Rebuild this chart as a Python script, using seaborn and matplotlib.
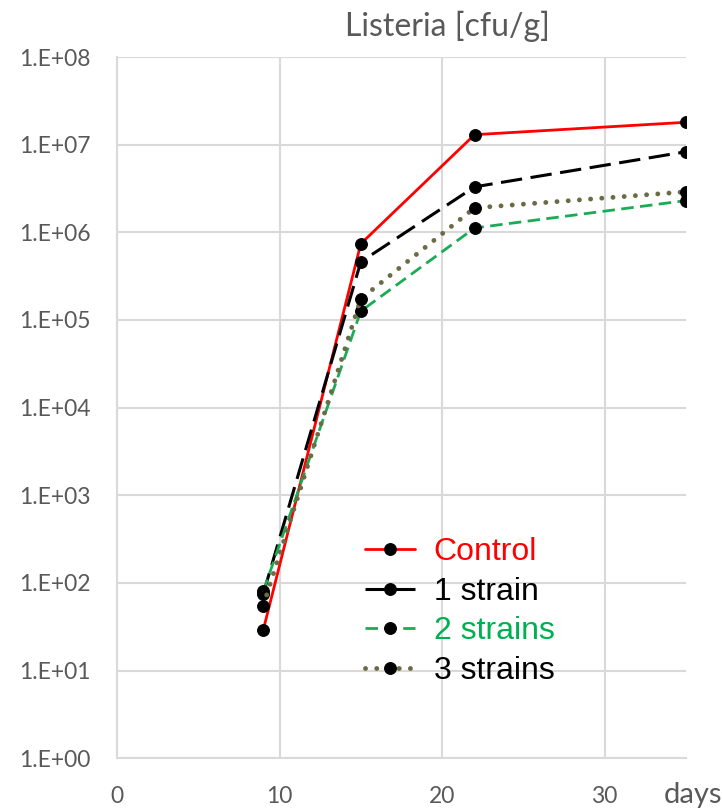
import numpy as np
import pandas as pd
import seaborn as sns
import matplotlib
matplotlib.use("Agg")
import matplotlib.pyplot as plt
from matplotlib.ticker import FixedLocator, FuncFormatter

# Listeria counts (cfu/g) over storage time
days = [9, 15, 22, 35]
control = [29, 7.4e5, 1.3e7, 1.8e7]
strain_1 = [75, 4.6e5, 3.3e6, 8.3e6]
strains_2 = [80, 1.26e5, 1.12e6, 2.3e6]
strains_3 = [55, 1.74e5, 1.9e6, 2.9e6]
series_names = ["Control", "1 strain", "2 strains", "3 strains"]
x_ticks = [0, 10, 20, 30]

sns.set_theme(style="white")
plt.rcParams["font.family"] = ["Lato", "DejaVu Sans"]

fig = plt.figure(figsize=(7.22, 8.10), dpi=100)
ax = fig.add_axes([0.162, 0.064, 0.788, 0.8656])

styles = {
    "Control": dict(color="#ff0000", linestyle="-", lw=2.0),
    "1 strain": dict(color="#000000", linestyle=(0, (7, 2.8)), lw=2.2),
    "2 strains": dict(color="#1aab55", linestyle=(0, (4.5, 2.3)), lw=2.0),
    "3 strains": dict(color="#6b6b45", linestyle=(0, (0.01, 2.3)), lw=3.5,
                      dash_capstyle="round"),
}
values = [control, strain_1, strains_2, strains_3]

for name, vals in zip(series_names, values):
    df = pd.DataFrame({"day": days, "cfu": vals})
    st = styles[name]
    sns.lineplot(data=df, x="day", y="cfu", ax=ax, color=st["color"],
                 linewidth=st["lw"], marker="o", markersize=8.5,
                 markerfacecolor="black", markeredgecolor="black",
                 label=name, zorder=3)
    line = ax.lines[-1]
    line.set_linestyle(st["linestyle"])
    if "dash_capstyle" in st:
        line.set_dash_capstyle(st["dash_capstyle"])

ax.set_yscale("log")
ax.set_ylim(1, 1e8)
ax.set_xlim(0, 35)
ax.yaxis.set_major_locator(FixedLocator([10.0 ** k for k in range(0, 9)]))
ax.yaxis.set_minor_locator(FixedLocator([]))
ax.yaxis.set_major_formatter(FuncFormatter(lambda v, p: "1.E+%02d" % int(round(np.log10(v)))))
ax.xaxis.set_major_locator(FixedLocator(x_ticks))

grid_c = "#d9d9d9"
ax.grid(True, color=grid_c, lw=1.5)
for s in ["top", "right"]:
    ax.spines[s].set_visible(False)
for s in ["left", "bottom"]:
    ax.spines[s].set_color(grid_c)
    ax.spines[s].set_linewidth(1.5)
ax.tick_params(axis="both", length=0, labelsize=16.5, colors="#595959")
ax.tick_params(axis="y", pad=19)
ax.tick_params(axis="x", pad=20)
ax.set_xlabel("")
ax.set_ylabel("")

fig.text(0.62, 0.968, "Listeria [cfu/g]", ha="center", va="center",
         fontsize=23, color="#595959")
fig.text(1.0, 0.018, "days", ha="right", va="center",
         fontsize=21, color="#595959")

leg = ax.legend(loc="upper left", bbox_to_anchor=(0.436, 0.315), frameon=False,
                prop={"family": ["Liberation Sans"], "size": 23},
                handlelength=1.55, labelspacing=0.3, handletextpad=0.6,
                borderpad=0, borderaxespad=0)
text_colors = ["#ff0000", "#000000", "#00b050", "#000000"]
for t, c in zip(leg.get_texts(), text_colors):
    t.set_color(c)

fig.savefig("out.png", dpi=100)
